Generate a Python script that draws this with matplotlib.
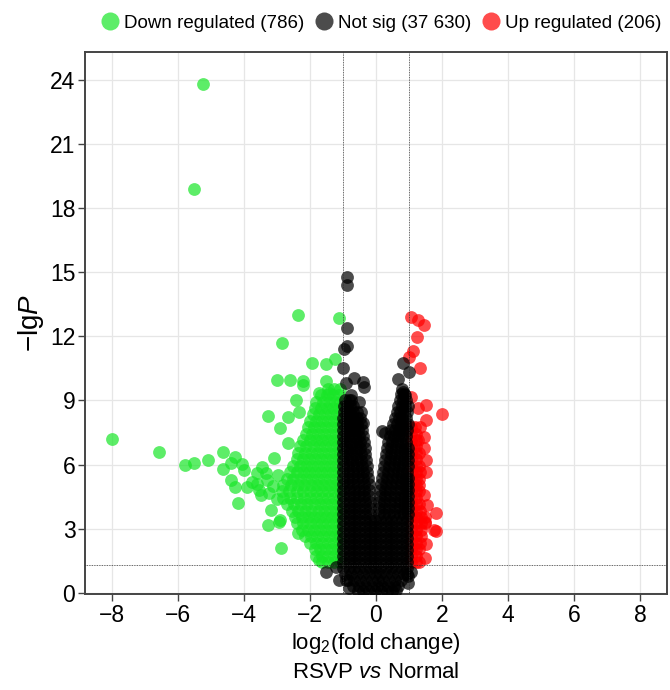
import matplotlib
matplotlib.use("Agg")
import matplotlib.pyplot as plt
from matplotlib.lines import Line2D

plt.rcParams['font.family'] = ['Liberation Sans', 'DejaVu Sans']
plt.rcParams['mathtext.fontset'] = 'custom'
plt.rcParams['mathtext.rm'] = 'Liberation Sans'
plt.rcParams['mathtext.it'] = 'Liberation Sans:italic'

# legend labels / counts
group_names = ["Down regulated", "Not sig", "Up regulated"]
group_counts = ["786", "37 630", "206"]
x_ticks = [-8, -6, -4, -2, 0, 2, 4, 6, 8]
y_ticks = [0, 3, 6, 9, 12, 15, 18, 21, 24]

# --- down regulated (green): scattered points
down_x = [-7.98, -6.56, -5.77, -5.49, -5.07, -4.63, -4.62, -4.27, -4.39, -4.04,
          -3.99, -4.38, -4.26, -4.17, -3.89, -3.59, -3.45, -3.33, -3.28, -3.48,
          -3.23, -3.18, -3.26, -2.88, -3.08, -2.91, -3.25, -3.00, -2.83, -2.92,
          -5.22, -5.50, -2.35, -1.11, -1.94, -1.50, -1.24, -2.61, -2.22, -2.20,
          -1.50, -1.72, -1.41, -2.42, -2.65, -2.32, -2.65, -2.91, -2.37, -1.72,
          -3.74, -3.60, -3.55, -3.10, -3.00, -2.95]
down_y = [7.20, 6.58, 6.00, 6.10, 6.20, 6.60, 5.82, 6.38, 6.07, 6.04,
          5.76, 5.26, 4.95, 4.23, 4.95, 5.60, 5.91, 5.60, 5.29, 4.59,
          4.67, 3.89, 3.19, 2.10, 6.30, 7.73, 8.28, 9.96, 11.70, 3.34,
          23.80, 18.90, 12.99, 12.87, 10.77, 10.70, 10.92, 9.96, 9.90, 9.70,
          9.93, 9.34, 9.36, 9.02, 8.25, 8.48, 7.00, 3.39, 2.80, 1.55,
          5.21, 5.10, 4.80, 5.00, 4.40, 5.50]
# dense green band, one row of x values per y level
down_levels = [1.45, 1.75, 2.05, 2.35, 2.65, 2.95, 3.25, 3.55, 3.85, 4.15,
               4.45, 4.75, 5.05, 5.35, 5.65, 5.95, 6.25, 6.55, 6.85, 7.15,
               7.45, 7.75, 8.05, 8.35, 8.65, 8.95, 9.25, 9.55]
down_rows = [
    [-1.62, -1.45, -1.28, -1.10],
    [-1.80, -1.62, -1.45, -1.28, -1.10],
    [-1.85, -1.68, -1.50, -1.32, -1.14],
    [-2.00, -1.82, -1.64, -1.46, -1.28, -1.10],
    [-2.15, -1.96, -1.78, -1.60, -1.42, -1.24, -1.08],
    [-2.25, -2.05, -1.86, -1.68, -1.50, -1.32, -1.14],
    [-2.40, -2.20, -2.00, -1.82, -1.64, -1.46, -1.28, -1.10],
    [-2.45, -2.25, -2.05, -1.86, -1.68, -1.50, -1.32, -1.14],
    [-2.55, -2.35, -2.15, -1.95, -1.76, -1.58, -1.40, -1.22, -1.06],
    [-2.70, -2.48, -2.28, -2.08, -1.88, -1.70, -1.52, -1.34, -1.16],
    [-2.80, -2.60, -2.38, -2.18, -1.98, -1.80, -1.62, -1.44, -1.26, -1.08],
    [-2.85, -2.62, -2.40, -2.20, -2.00, -1.82, -1.64, -1.46, -1.28, -1.10],
    [-2.80, -2.58, -2.36, -2.16, -1.96, -1.78, -1.60, -1.42, -1.24, -1.08],
    [-2.70, -2.50, -2.30, -2.10, -1.92, -1.74, -1.56, -1.38, -1.20],
    [-2.60, -2.40, -2.20, -2.02, -1.84, -1.66, -1.48, -1.30, -1.12],
    [-2.50, -2.30, -2.10, -1.92, -1.74, -1.56, -1.38, -1.20],
    [-2.40, -2.20, -2.02, -1.84, -1.66, -1.48, -1.30, -1.12],
    [-2.35, -2.15, -1.96, -1.78, -1.60, -1.42, -1.24, -1.08],
    [-2.30, -2.10, -1.90, -1.72, -1.54, -1.36, -1.18],
    [-2.20, -2.00, -1.82, -1.64, -1.46, -1.28, -1.10],
    [-2.10, -1.92, -1.74, -1.56, -1.38, -1.20],
    [-2.05, -1.86, -1.68, -1.50, -1.32, -1.14],
    [-1.98, -1.80, -1.62, -1.44, -1.26, -1.10],
    [-1.90, -1.72, -1.54, -1.36, -1.18],
    [-1.85, -1.66, -1.48, -1.30, -1.12],
    [-1.80, -1.60, -1.42, -1.24, -1.08],
    [-1.65, -1.48, -1.30, -1.12],
    [-1.45, -1.28, -1.10],
]

# --- up regulated (red)
up_x = [1.06, 1.29, 1.46, 1.23, 1.11, 1.01, 1.33, 1.06, 1.29, 1.52,
        2.00, 1.53, 1.33, 1.46, 1.53, 1.53, 1.82, 1.82, 1.75, 1.53,
        1.50, 1.46, 1.55, 1.50, 1.45]
up_y = [12.88, 12.76, 12.53, 11.95, 11.33, 11.05, 10.50, 9.18, 8.64, 8.79,
        8.37, 8.09, 7.78, 6.77, 6.20, 5.67, 3.73, 2.88, 2.95, 2.27,
        1.63, 7.31, 4.10, 3.30, 4.60]
up_levels = [1.45, 1.75, 2.05, 2.35, 2.65, 2.95, 3.25, 3.55, 3.85, 4.15,
             4.45, 4.75, 5.05, 5.35, 5.65, 5.95, 6.25, 6.55, 6.85, 7.15,
             7.45, 7.75]
up_rows = [
    [1.05, 1.20, 1.30], [1.05, 1.20], [1.05, 1.20, 1.32], [1.05, 1.20, 1.35],
    [1.05, 1.20, 1.36], [1.05, 1.20, 1.38], [1.05, 1.20, 1.36, 1.48],
    [1.05, 1.20, 1.36, 1.50], [1.05, 1.20, 1.35], [1.05, 1.20, 1.32],
    [1.05, 1.20], [1.05, 1.20, 1.30], [1.05, 1.20, 1.32], [1.05, 1.20, 1.30],
    [1.05, 1.20, 1.34], [1.05, 1.20, 1.32], [1.05, 1.20], [1.05, 1.20, 1.30],
    [1.05, 1.20], [1.05, 1.20, 1.28], [1.05, 1.20], [1.05, 1.18],
]

# --- not significant (black)
ns_x = [-0.86, -0.86, -0.86, -0.86, -0.96, -0.99, -0.66, -0.40, -0.35, -0.91,
        -0.76, -0.50, -0.45, -0.40, 0.83, 0.99, 0.68, 0.81, 0.89, 0.28,
        -1.52, -1.11, -0.81, 0.60, 0.96, -0.90, 0.98, -1.20, 1.05, 0.18]
ns_y = [14.78, 14.39, 12.40, 11.55, 11.39, 10.50, 10.04, 9.88, 9.65, 9.80,
        9.26, 8.95, 8.48, 7.94, 10.74, 10.35, 9.99, 9.41, 9.26, 7.50,
        1.00, 0.62, 0.23, 0.15, 0.78, 0.60, 0.45, 1.20, 1.00, 7.55]
ns_full = [-0.98, -0.82, -0.66, -0.50, -0.34, -0.18, -0.02, 0.14, 0.30, 0.46, 0.62, 0.78, 0.94]
ns_levels = [0.10, 0.35, 0.62, 0.90, 1.18, 1.46, 1.74, 2.02, 2.30, 2.58,
             2.86, 3.14, 3.42, 3.70, 3.98, 4.26, 4.54, 4.82, 5.10, 5.38,
             5.66, 5.94, 6.22, 6.50, 6.78, 7.06, 7.34, 7.62, 7.90, 8.18,
             8.46, 8.74, 9.02, 9.30, 9.55]
ns_rows = [
    [-0.55, -0.38, -0.20, -0.02, 0.16, 0.34, 0.48],
    [-0.70, -0.52, -0.34, -0.16, 0.02, 0.20, 0.38, 0.56, 0.66],
    [-0.85, -0.67, -0.49, -0.31, -0.13, 0.05, 0.23, 0.41, 0.59, 0.77],
    [-0.94, -0.76, -0.58, -0.40, -0.22, -0.04, 0.14, 0.32, 0.50, 0.68, 0.86, 0.94],
    ns_full, ns_full, ns_full, ns_full, ns_full, ns_full, ns_full, ns_full, ns_full,
    [-0.98, -0.82, -0.66, -0.50, -0.34, -0.18, 0.08, 0.24, 0.40, 0.56, 0.72, 0.86, 0.98],
    [-0.98, -0.82, -0.66, -0.50, -0.34, -0.18, 0.09, 0.25, 0.41, 0.57, 0.73, 0.87, 0.98],
    [-0.98, -0.82, -0.66, -0.50, -0.34, -0.19, 0.10, 0.26, 0.42, 0.58, 0.74, 0.88, 0.98],
    [-0.98, -0.82, -0.66, -0.51, -0.35, -0.20, 0.11, 0.27, 0.43, 0.59, 0.75, 0.89, 0.98],
    [-0.98, -0.82, -0.67, -0.52, -0.36, -0.21, 0.13, 0.28, 0.44, 0.60, 0.76, 0.90, 0.98],
    [-0.98, -0.83, -0.68, -0.53, -0.37, -0.22, 0.16, 0.31, 0.46, 0.61, 0.76, 0.90, 0.98],
    [-0.98, -0.83, -0.68, -0.54, -0.39, -0.24, 0.18, 0.33, 0.48, 0.63, 0.78, 0.92, 0.98],
    [-0.98, -0.84, -0.70, -0.55, -0.40, -0.26, 0.21, 0.36, 0.51, 0.66, 0.80, 0.93],
    [-0.98, -0.84, -0.70, -0.56, -0.42, -0.28, 0.24, 0.39, 0.54, 0.69, 0.83, 0.96],
    [-0.98, -0.85, -0.72, -0.58, -0.44, -0.30, 0.27, 0.42, 0.57, 0.71, 0.85, 0.98],
    [-0.98, -0.85, -0.72, -0.59, -0.45, -0.32, 0.30, 0.45, 0.59, 0.73, 0.87, 0.98],
    [-0.98, -0.86, -0.73, -0.60, -0.47, -0.34, 0.33, 0.47, 0.61, 0.75, 0.88, 0.98],
    [-0.98, -0.86, -0.74, -0.61, -0.49, -0.36, 0.37, 0.50, 0.63, 0.76, 0.90],
    [-0.98, -0.87, -0.75, -0.63, -0.51, -0.39, 0.42, 0.55, 0.67, 0.80, 0.92],
    [-0.98, -0.87, -0.76, -0.65, -0.54, -0.43, 0.47, 0.59, 0.71, 0.83, 0.95],
    [-0.98, -0.88, -0.77, -0.67, -0.56, -0.46, 0.52, 0.64, 0.76, 0.87, 0.97],
    [-0.98, -0.88, -0.78, -0.68, -0.58, -0.49, 0.58, 0.69, 0.80, 0.91],
    [-0.97, -0.88, -0.78, -0.68, -0.58, 0.63, 0.74, 0.85, 0.95],
    [-0.95, -0.86, -0.77, -0.68, 0.68, 0.78, 0.88, 0.96],
    [-0.92, -0.82, -0.74, 0.72, 0.82, 0.92],
    [0.76, 0.86],
    [0.80],
]

colors = ["#19E628", "#000000", "#FF0000"]


def flatten(levels, rows, extra_x, extra_y):
    xs = [x for row in rows for x in row] + extra_x
    ys = [y for y, row in zip(levels, rows) for _ in row] + extra_y
    return xs, ys


def main():
    dx, dy = flatten(down_levels, down_rows, down_x, down_y)
    ux, uy = flatten(up_levels, up_rows, up_x, up_y)
    nx, ny = flatten(ns_levels, ns_rows, ns_x, ns_y)

    fig = plt.figure(figsize=(6.7, 6.9), dpi=100)
    ax = fig.add_axes([0.127, 0.139, 0.868, 0.786])

    ax.set_axisbelow(True)
    ax.grid(True, color="#E6E6E6", linewidth=0.9)

    ax.scatter(dx, dy, s=85, c=colors[0], alpha=0.7, linewidths=0, zorder=2)
    ax.scatter(ux, uy, s=85, c=colors[2], alpha=0.7, linewidths=0, zorder=2)
    ax.scatter(nx, ny, s=85, c=colors[1], alpha=0.7, linewidths=0, zorder=3)

    # cutoff lines
    for v in (-1, 1):
        ax.axvline(v, color="#333333", linestyle=(0, (1, 1)), linewidth=0.6, zorder=4)
    ax.axhline(1.3, color="#333333", linestyle=(0, (1, 1)), linewidth=0.6, zorder=4)

    ax.set_xlim(-8.8, 8.8)
    ax.set_ylim(-0.05, 25.3)
    ax.set_xticks(x_ticks)
    ax.set_yticks(y_ticks)
    ax.tick_params(labelsize=16.5, length=5, width=1, color="#444444", pad=2)
    for sp in ax.spines.values():
        sp.set_color("#444444")
        sp.set_linewidth(1.4)

    ax.set_xlabel("log$_2$(fold change)\nRSVP $\\it{vs}$ Normal", fontsize=16,
                  labelpad=3, linespacing=1.35)
    ax.set_ylabel("\u2212lg$\\it{P}$", fontsize=20, labelpad=3)

    handles = [Line2D([], [], marker="o", linestyle="", markersize=13,
                      markerfacecolor=c, markeredgewidth=0, alpha=0.7)
               for c in colors]
    labels = [f"{n} ({k})" for n, k in zip(group_names, group_counts)]
    ax.legend(handles, labels, loc="center right", bbox_to_anchor=(1.004, 1.053),
              ncol=3, frameon=False, fontsize=13.5, handlelength=0.9,
              handletextpad=0.3, columnspacing=0.6, borderaxespad=0.0)

    fig.savefig("out.png", dpi=100)


if __name__ == "__main__":
    main()
